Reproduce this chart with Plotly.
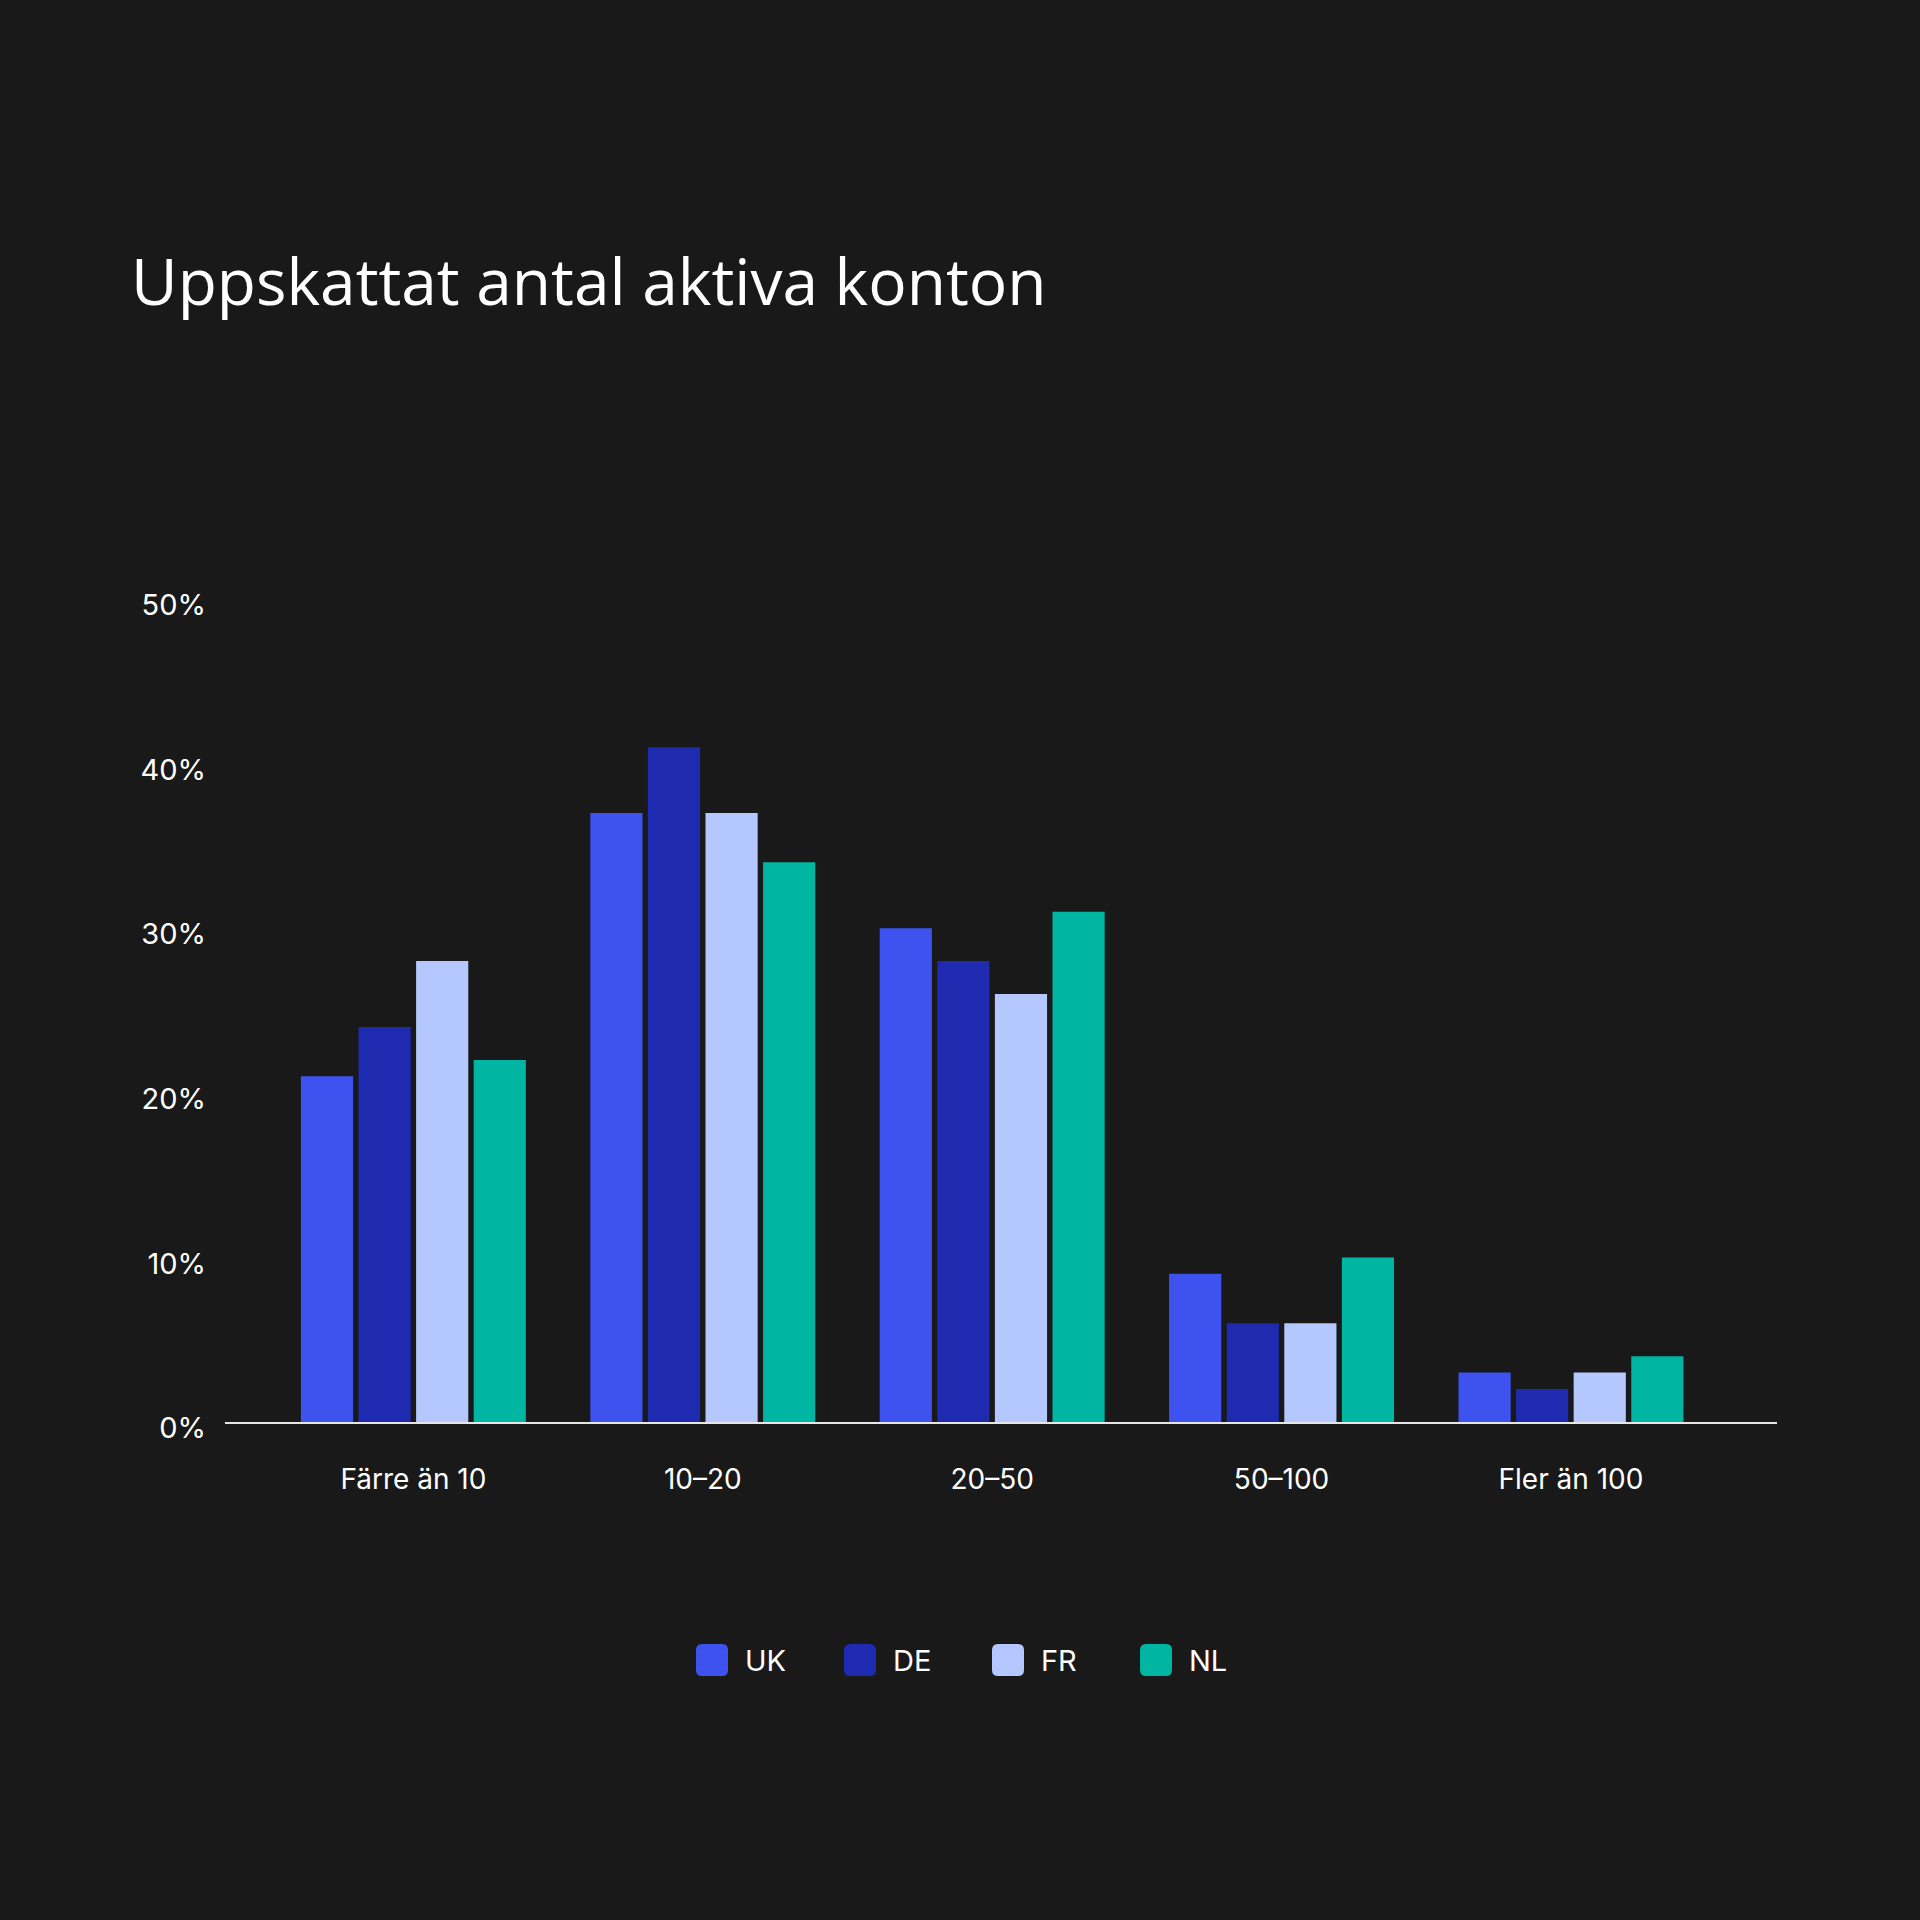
import plotly.graph_objects as go

categories = ["Färre än 10", "10–20", "20–50", "50–100", "Fler än 100"]
series_names = ["UK", "DE", "FR", "NL"]
uk = [21, 37, 30, 9, 3]
de = [24, 41, 28, 6, 2]
fr = [28, 37, 26, 6, 3]
nl = [22, 34, 31, 10, 4]
y_ticks = [0, 10, 20, 30, 40, 50]
y_tick_labels = ["0%", "10%", "20%", "30%", "40%", "50%"]
title_text = "Uppskattat antal aktiva konton"

colors = ["#3d52ee", "#1e2bb0", "#b4c7fe", "#00b5a1"]
values = [uk, de, fr, nl]
BG = "#191919"

fig = go.Figure()
for name, vals, col in zip(series_names, values, colors):
    fig.add_trace(go.Bar(x=categories, y=vals, name=name, marker=dict(color=col, line=dict(width=0)),
                         showlegend=False))

# plot area in pixels
L, R, T, B = 225, 1777, 599, 1422
W, H = R - L, B - T

def px_x(p):
    return (p - L) / W

def px_y(p):
    return (B - p) / H

# manual legend with rounded squares
leg_x0, leg_dx, leg_y = 712, 148, 1660
rr = "M -16,-10 Q -16,-16 -10,-16 L 10,-16 Q 16,-16 16,-10 L 16,10 Q 16,16 10,16 L -10,16 Q -16,16 -16,10 Z"
shapes = []
annotations = []
for i, (name, col) in enumerate(zip(series_names, colors)):
    cx = leg_x0 + i * leg_dx
    shapes.append(dict(type="path", xref="paper", yref="paper", xsizemode="pixel", ysizemode="pixel",
                       xanchor=px_x(cx), yanchor=px_y(leg_y), path=rr, fillcolor=col,
                       line=dict(width=0)))
    annotations.append(dict(text=name, xref="paper", yref="paper", x=px_x(cx + 31), y=px_y(leg_y),
                            xanchor="left", yanchor="middle", showarrow=False,
                            font=dict(family="Inter", size=29, color="#ffffff")))

fig.update_layout(
    width=1920, height=1920, autosize=False,
    paper_bgcolor=BG, plot_bgcolor=BG,
    margin=dict(l=L, r=1920 - R, t=T, b=1920 - B, pad=0),
    barmode="group", bargap=0.204, bargroupgap=0.094,
    title=dict(text=title_text, x=131 / 1920, xanchor="left", xref="container",
               y=1 - 283 / 1920, yanchor="middle", yref="container",
               font=dict(family="Open Sans", size=64, color="#ffffff")),
    shapes=shapes, annotations=annotations,
    xaxis=dict(range=[-0.651, 4.712], showgrid=False, zeroline=False, showline=True,
               linecolor="#e6e6e6", linewidth=2, ticks="", ticklabelstandoff=31,
               tickfont=dict(family="Inter", size=28, color="#ffffff")),
    yaxis=dict(range=[0, 50], tickvals=y_ticks, ticktext=y_tick_labels, showgrid=False,
               zeroline=False, showline=False, ticks="", ticklabelstandoff=18, ticklabelshift=6,
               tickfont=dict(family="Inter", size=29, color="#ffffff")),
    showlegend=False,
)

fig.write_html("out.html")
